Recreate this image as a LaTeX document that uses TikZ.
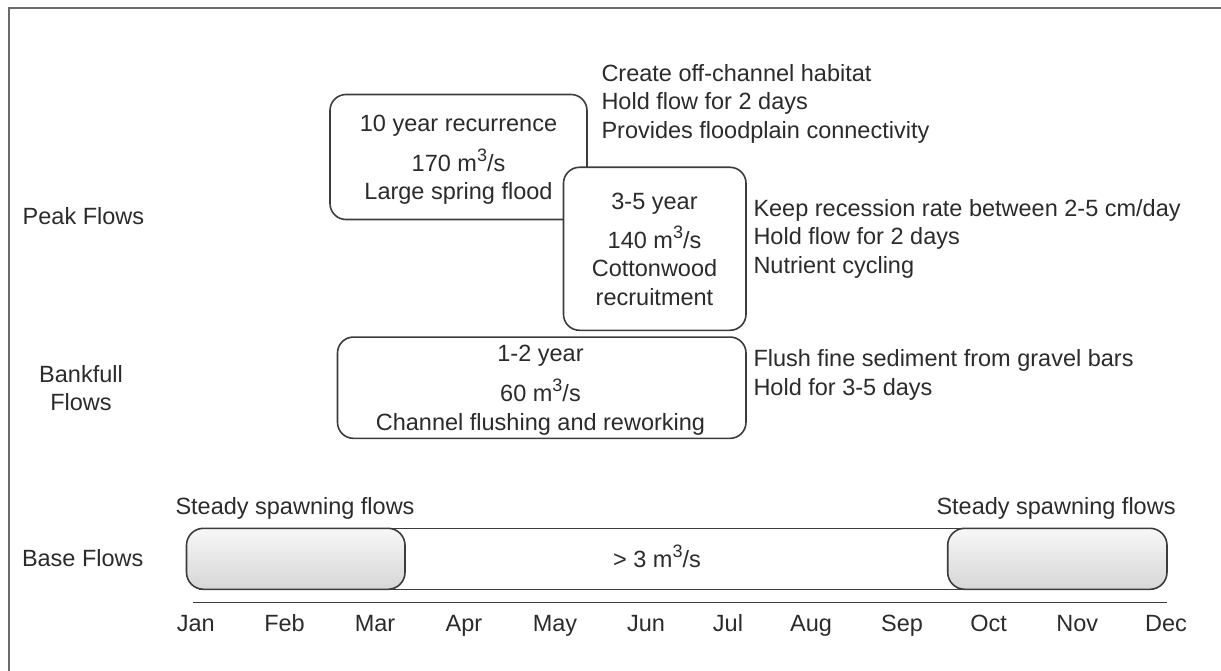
\documentclass[tikz,border=0pt]{standalone}
\usepackage{fontspec}
\setmainfont{Liberation Sans}
\definecolor{ink}{HTML}{2B2B2B}
\definecolor{edge}{HTML}{3C3C3C}
\definecolor{framegray}{HTML}{6A6A6A}
% discharge in cubic metres per second, with a large raised exponent
\newcommand{\cms}[1]{#1~m\raisebox{10pt}{\fontsize{18}{18}\selectfont 3}/s}
\begin{document}
\begin{tikzpicture}[x=1pt,y=-1pt,
  every node/.style={inner sep=0pt, outer sep=0pt, text=ink,
    font=\fontsize{23.5}{28}\selectfont},
  lbl/.style={anchor=base west},
  ctr/.style={anchor=base},
  flowbox/.style={draw=edge, line width=1.6pt, rounded corners=16pt, fill=white},
  spawnbox/.style={draw=edge, line width=1.6pt, rounded corners=17pt,
    top color=gray!6, bottom color=gray!32},
  axisline/.style={draw=edge, line width=1.8pt}
]
\useasboundingbox (0,0) rectangle (1221,671);

% outer frame (only its left and top sides fall inside the page)
\draw[framegray, line width=2pt] (9,690) -- (9,8.3) -- (1240,8.3);

% ---------- row labels ----------
\node[lbl] (peak) at (22.7,225) {Peak Flows};
\node[ctr] (bank1) at (81,382.7) {Bankfull};
\node[ctr] (bank2) at (81,410) {Flows};
\node[lbl] (base) at (22,566.7) {Base Flows};

% ---------- peak flows ----------
\node[flowbox, minimum width=257pt, minimum height=125pt] (tenyr) at (458.5,157) {};
\node[ctr] (tenyrA) at (458.5,131.5) {10 year recurrence};
\node[ctr] (tenyrB) at (458.5,171.7) {\cms{170}};
\node[ctr] (tenyrC) at (458.5,200) {Large spring flood};

\node[flowbox, minimum width=182.5pt, minimum height=163pt] (threeyr) at (654.75,248.8) {};
\node[ctr] (threeyrA) at (654.5,209.3) {3-5 year};
\node[ctr] (threeyrB) at (654.5,248.3) {\cms{140}};
\node[ctr] (threeyrC) at (654.5,276.7) {Cottonwood};
\node[ctr] (threeyrD) at (654.5,305) {recruitment};

\node[lbl] (tenyrN1) at (601.5,81.7) {Create off-channel habitat};
\node[lbl] (tenyrN2) at (601.5,110) {Hold flow for 2 days};
\node[lbl] (tenyrN3) at (601.5,138.3) {Provides floodplain connectivity};

\node[lbl] (threeyrN1) at (753.5,216.7) {Keep recession rate between 2-5 cm/day};
\node[lbl] (threeyrN2) at (753.5,245) {Hold flow for 2 days};
\node[lbl] (threeyrN3) at (753.5,273.3) {Nutrient cycling};

% ---------- bankfull flows ----------
\node[flowbox, minimum width=408.5pt, minimum height=101.3pt] (oneyr) at (541.75,387.7) {};
\node[ctr] (oneyrA) at (540.5,361.7) {1-2 year};
\node[ctr] (oneyrB) at (540.5,401.7) {\cms{60}};
\node[ctr] (oneyrC) at (540.5,430) {Channel flushing and reworking};

\node[lbl] (oneyrN1) at (753.5,366.7) {Flush fine sediment from gravel bars};
\node[lbl] (oneyrN2) at (753.5,395) {Hold for 3-5 days};

% ---------- base flows ----------
\node[draw=edge, line width=1.6pt, fill=white, minimum width=950pt, minimum height=61pt]
  (basebar) at (675,558.8) {};
\node[ctr] (baseval) at (657,567.5) {\cms{> 3}};
\node[spawnbox, minimum width=218.5pt, minimum height=61pt] (spawnL) at (295.75,558.8) {};
\node[spawnbox, minimum width=219.3pt, minimum height=61pt] (spawnR) at (1057.35,558.8) {};
\node[lbl] (spawnLt) at (175.5,514) {Steady spawning flows};
\node[lbl] (spawnRt) at (936.5,514) {Steady spawning flows};

% ---------- month axis ----------
\coordinate (axL) at (193,602.5);
\coordinate (axR) at (1167,602.5);
\draw[axisline] (axL) -- (axR);
\foreach \m/\x in {Jan/195.7, Feb/284.5, Mar/375, Apr/464, May/555, Jun/646,
                   Jul/728, Aug/811, Sep/902, Oct/988.7, Nov/1077.3, Dec/1166}
  \node[ctr] (month\m) at (\x,631.7) {\m};
\end{tikzpicture}
\end{document}
